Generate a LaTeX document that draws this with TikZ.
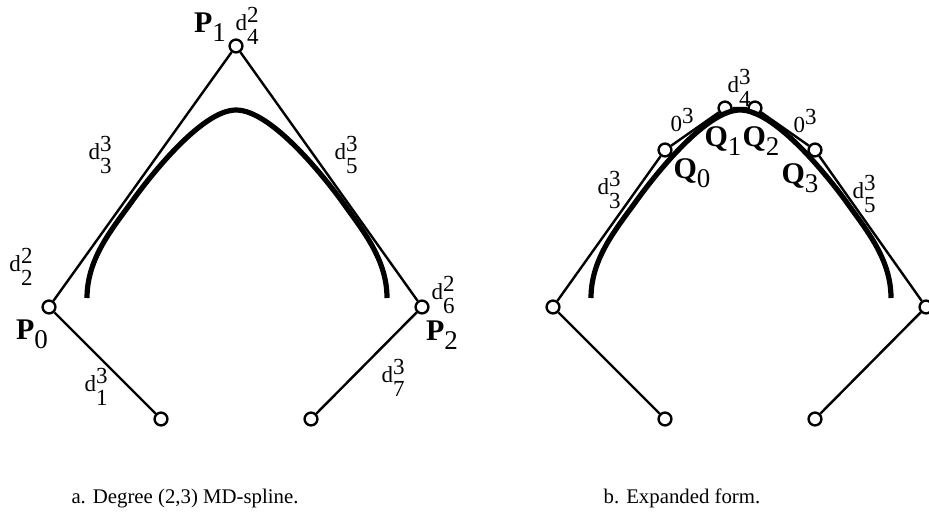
\documentclass[tikz,border=0pt]{standalone}
\usepackage{fontspec}
\setmainfont{Liberation Serif}
\usetikzlibrary{positioning}
% letter with super- and subscript at full size
\newcommand{\dlab}[3]{#1\rlap{\raisebox{0.32em}{#2}}\raisebox{-0.62em}{#3}}
\newcommand{\blab}[2]{{\bfseries #1}\raisebox{-0.3em}{\fontsize{13.5}{15}\selectfont #2}}
\tikzset{
  knot/.style={circle, draw, fill=white, line width=1.2pt, inner sep=0pt, minimum size=6.4pt},
  ctrl/.style={line width=1.2pt},
  spline/.style={line width=2.6pt},
  lab/.style={inner sep=0pt, font=\fontsize{11.5}{13}\selectfont},
  ptlab/.style={inner sep=0pt, font=\fontsize{15}{17}\selectfont},
  figcap/.style={inner sep=0pt, anchor=base, font=\fontsize{10.4}{12}\selectfont}
}

\begin{document}
\begin{tikzpicture}[x=0.5pt, y=-0.5pt]
\clip (0,0) rectangle (929,525);

% a. control polygon
\node[knot] (B0) at (161,419) {};
\node[knot] (P0) at (49,307) {};
\node[knot] (P1) at (236,46) {};
\node[knot] (P2) at (422,307) {};
\node[knot] (B1) at (311,419) {};
\draw[ctrl] (B0) -- (P0) -- (P1) -- (P2) -- (B1);

% b. expanded polygon
\node[knot] (rB0) at (665,419) {};
\node[knot] (rP0) at (553,307) {};
\node[knot] (Q0) at (665,150) {};
\node[knot] (Q1) at (725,108) {};
\node[knot] (Q2) at (755,108) {};
\node[knot] (Q3) at (815,150) {};
\node[knot] (rP2) at (926,307) {};
\node[knot] (rB1) at (815,419) {};
\draw[ctrl] (rB0) -- (rP0) -- (Q0) -- (Q1) -- (Q2) -- (Q3) -- (rP2) -- (rB1);

% the spline, same in both
\foreach \dx in {0,504}
  \draw[spline, shift={(\dx,0)}] (87,298) .. controls (87,258) and (112.6,228.5) .. (133,200)
    .. controls (147.6,179.7) and (201,110) .. (236,110)
    .. controls (272,110) and (326,179.7) .. (341,200)
    .. controls (361,228.5) and (387,258) .. (387,298);

% labels a.
\node[ptlab] (lP1) at (210,27) {\blab{P}{1}};
\node[lab] (l42) at (247,26) {\dlab{d}{2}{4}};
\node[lab] (l33) at (100,155) {\dlab{d}{3}{3}};
\node[lab] (l53) at (346,155) {\dlab{d}{3}{5}};
\node[lab] (l22) at (21,267) {\dlab{d}{2}{2}};
\node[ptlab] (lP0) at (32,334) {\blab{P}{0}};
\node[lab] (l13) at (96,387) {\dlab{d}{3}{1}};
\node[lab] (l62) at (443,295) {\dlab{d}{2}{6}};
\node[ptlab] (lP2) at (442,335) {\blab{P}{2}};
\node[lab] (l73) at (393,378) {\dlab{d}{3}{7}};

% labels b.
\node[lab] (r33) at (609,190) {\dlab{d}{3}{3}};
\node[lab] (r03a) at (682,120) {0\raisebox{0.32em}{3}};
\node[lab] (r43) at (739,88) {\dlab{d}{3}{4}};
\node[ptlab] (lQ1) at (723,141) {\blab{Q}{1}};
\node[ptlab] (lQ2) at (761,141) {\blab{Q}{2}};
\node[ptlab] (lQ0) at (692,173) {\blab{Q}{0}};
\node[lab] (r03b) at (805,121) {0\raisebox{0.32em}{3}};
\node[ptlab] (lQ3) at (800,178) {\blab{Q}{3}};
\node[lab] (r53) at (864,194) {\dlab{d}{3}{5}};

% captions
\node[figcap] (capA) at (185,503) {a. Degree (2,3) MD-spline.};
\node[figcap] (capB) at (682,503) {b. Expanded form.};
\end{tikzpicture}
\end{document}
